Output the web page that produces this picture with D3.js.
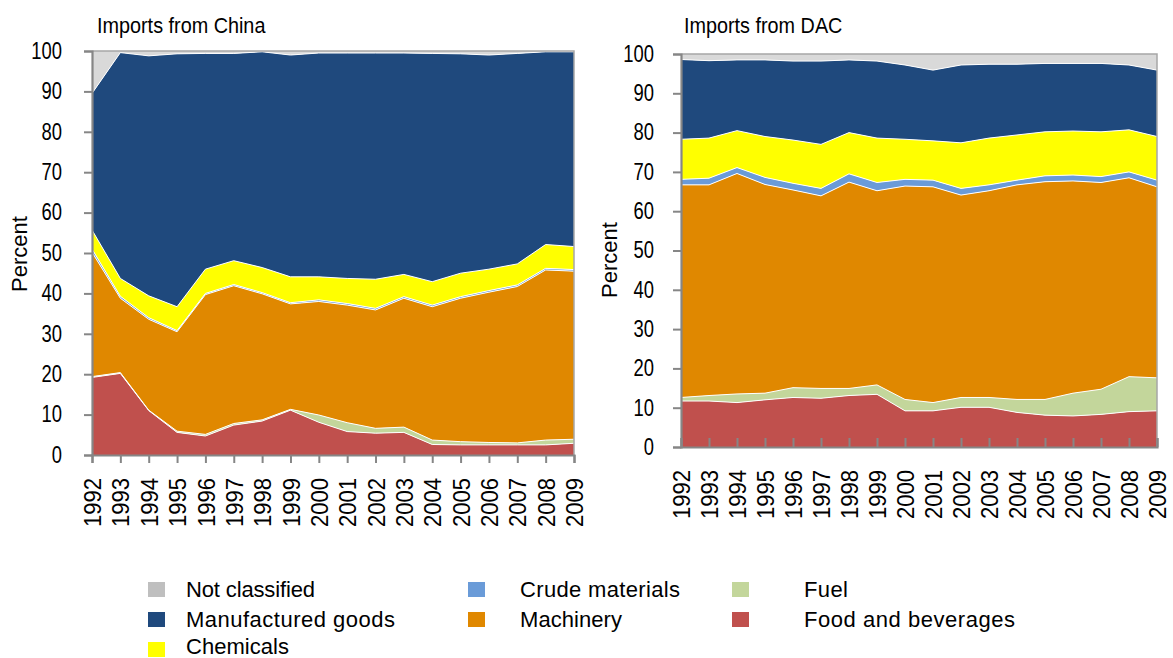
<!DOCTYPE html>
<html><head><meta charset="utf-8">
<script src="https://cdn.jsdelivr.net/npm/d3@7/dist/d3.min.js"></script>
<style>
body{margin:0;background:#fff}
svg{display:block;font-family:"Liberation Sans",Arial,Helvetica,sans-serif}
</style>
</head><body>
<svg id="chart" width="1173" height="658"></svg>
<script>
// ---------- data ----------
const years = [1992,1993,1994,1995,1996,1997,1998,1999,2000,2001,2002,2003,2004,2005,2006,2007,2008,2009];
const seriesKeys = ["food","fuel","machinery","crude","chemicals","manufactured","notClassified"];
const seriesNames = ["Food and beverages","Fuel","Machinery","Crude materials","Chemicals","Manufactured goods","Not classified"];
const seriesColors = ["#C0504D","#C3D69B","#E08800","#6A9BD8","#FFFF00","#1F497D","#D9D9D9"];
const legendColors = ["#C0504D","#C3D69B","#E08800","#6A9BD8","#FFFF00","#1F497D","#BFBFBF"];
const yTicks = [0,10,20,30,40,50,60,70,80,90,100];
const titles = ["Imports from China","Imports from DAC"];
const yLabel = "Percent";

// Imports from China (percent)
const chinaFood          = [19.2,20.2,11.0,5.6,4.7,7.4,8.4,11.1,8.1,5.8,5.4,5.6,2.6,2.5,2.5,2.5,2.5,2.9];
const chinaFuel          = [0.2,0.2,0.1,0.3,0.4,0.4,0.3,0.2,1.8,2.2,1.2,1.3,1.1,0.8,0.6,0.5,1.2,1.0];
const chinaMachinery     = [30.8,18.4,22.5,24.6,34.6,34.1,31.2,26.1,28.1,29.1,29.3,31.9,33.0,35.5,37.2,38.7,42.1,41.6];
const chinaCrude         = [0.8,0.5,0.4,0.3,0.3,0.3,0.3,0.3,0.4,0.4,0.4,0.4,0.4,0.4,0.4,0.4,0.4,0.4];
const chinaChemicals     = [4.7,4.4,5.4,5.9,6.0,5.9,6.2,6.4,5.7,6.2,7.2,5.5,5.8,5.8,5.3,5.2,5.9,5.7];
const chinaManufactured  = [33.8,55.9,59.4,62.6,53.4,51.3,53.4,54.9,55.4,55.8,56.0,54.8,56.5,54.3,53.0,52.1,47.7,48.2];
const chinaNotClassified = [10.5,0.4,1.2,0.7,0.6,0.6,0.2,1.0,0.5,0.5,0.5,0.5,0.6,0.7,1.0,0.6,0.2,0.2];

// Imports from DAC (percent)
const dacFood          = [11.7,11.7,11.3,12.0,12.6,12.4,13.1,13.4,9.2,9.2,10.1,10.1,8.8,8.1,7.9,8.3,9.0,9.2];
const dacFuel          = [0.9,1.4,2.2,1.7,2.5,2.5,1.8,2.4,2.9,2.1,2.5,2.5,3.3,4.0,5.8,6.4,8.9,8.4];
const dacMachinery     = [54.1,53.6,56.1,53.1,50.3,49.0,52.5,49.4,54.3,54.9,51.5,52.6,54.6,55.4,54.0,52.6,50.6,48.6];
const dacCrude         = [1.4,1.7,1.5,1.8,1.7,1.9,2.1,2.1,1.7,1.7,1.7,1.5,1.2,1.5,1.5,1.5,1.5,1.7];
const dacChemicals     = [10.2,10.2,9.4,10.4,11.0,11.2,10.5,11.3,10.2,10.0,11.6,11.9,11.5,11.2,11.2,11.4,10.7,11.1];
const dacManufactured  = [20.3,19.7,18.0,19.5,20.1,21.2,18.5,19.6,18.9,18.0,19.8,18.8,18.0,17.4,17.2,17.4,16.5,16.9];
const dacNotClassified = [1.4,1.7,1.5,1.5,1.8,1.8,1.5,1.8,2.8,4.1,2.8,2.6,2.6,2.4,2.4,2.4,2.8,4.1];

// ---------- helpers ----------
function rows(arrs){
  return years.map((yr,i)=>{
    const r={year:yr};
    seriesKeys.forEach((k,j)=>{ r[k]=arrs[j][i]; });
    return r;
  });
}
function condense(sel,f){
  sel.each(function(){
    const L=this.getComputedTextLength();
    this.setAttribute("textLength",(L*f).toFixed(1));
    this.setAttribute("lengthAdjust","spacingAndGlyphs");
  });
}

const svg = d3.select("#chart");

function panel(cfg){
  const data = rows(cfg.arrays);
  const x = d3.scaleLinear().domain([years[0],years[years.length-1]]).range(cfg.xr);
  const y = d3.scaleLinear().domain([0,100]).range(cfg.yr);
  const stack = d3.stack().keys(seriesKeys)(data);
  const g = svg.append("g");

  const area = d3.area().x(d=>x(d.data.year)).y0(d=>y(d[0])).y1(d=>y(Math.min(100,d[1])));
  g.selectAll("path.layer").data(stack).join("path")
    .attr("class","layer")
    .attr("d",area)
    .attr("fill",(d,i)=>seriesColors[i]);
  const topLine = d3.line().x(d=>x(d.data.year)).y(d=>y(Math.min(100,d[1])));
  g.selectAll("path.sep").data(stack.slice(0,stack.length-1)).join("path")
    .attr("class","sep")
    .attr("d",topLine)
    .attr("fill","none").attr("stroke","#fff").attr("stroke-width",1);

  // frame (top and right)
  g.append("path")
    .attr("d",`M${cfg.xr[0]},${y(100)}H${cfg.xr[1]}V${y(0)}`)
    .attr("fill","none").attr("stroke","#A6A6A6").attr("stroke-width",1.5);

  // y axis
  const ya = g.append("g").attr("transform",`translate(${cfg.xr[0]},0)`)
    .call(d3.axisLeft(y).tickValues(yTicks).tickSize(8).tickPadding(cfg.yPad).tickFormat(d3.format("d")));
  ya.select(".domain").attr("stroke","#868686").attr("stroke-width",2.2);
  ya.selectAll(".tick line").attr("stroke","#868686").attr("stroke-width",2);
  ya.selectAll(".tick text").attr("font-size",23).attr("fill","#000")
    .attr("font-family","'Liberation Sans',Arial,sans-serif");
  condense(ya.selectAll(".tick text"),0.8);

  // x axis
  const xa = g.append("g").attr("transform",`translate(0,${y(0)})`)
    .call(d3.axisBottom(x).tickValues(years).tickSize(cfg.xTick).tickFormat(d3.format("d")));
  xa.select(".domain").attr("stroke","#868686").attr("stroke-width",2.2);
  xa.selectAll(".tick line").attr("stroke","#868686").attr("stroke-width",2);
  xa.selectAll(".tick text")
    .attr("font-size",24).attr("fill","#000")
    .attr("font-family","'Liberation Sans',Arial,sans-serif")
    .attr("text-anchor","end")
    .attr("transform","rotate(-90)")
    .attr("x",-cfg.xLabOff).attr("y",0).attr("dy","0.36em");
  condense(xa.selectAll(".tick text"),0.92);

  // title
  const t = svg.append("text").attr("x",cfg.titleX).attr("y",33)
    .attr("font-size",22).attr("fill","#000").text(cfg.title);
  condense(t,0.9);

  // y label
  svg.append("text")
    .attr("transform",`translate(${cfg.plX},${cfg.plY}) rotate(-90)`)
    .attr("text-anchor","middle").attr("font-size",22).attr("fill","#000")
    .text(yLabel);
}

panel({
  arrays:[chinaFood,chinaFuel,chinaMachinery,chinaCrude,chinaChemicals,chinaManufactured,chinaNotClassified],
  xr:[92,574], yr:[455,51], yPad:22, xTick:8, xLabOff:23,
  title:titles[0], titleX:97, plX:27, plY:254
});
panel({
  arrays:[dacFood,dacFuel,dacMachinery,dacCrude,dacChemicals,dacManufactured,dacNotClassified],
  xr:[681,1157], yr:[447,54], yPad:19, xTick:-9, xLabOff:23,
  title:titles[1], titleX:684, plX:617, plY:260
});

// ---------- legend ----------
const legendOrder = [
  {k:6,col:0,row:0,w:129},{k:3,col:1,row:0,w:160},{k:1,col:2,row:0,w:44},
  {k:5,col:0,row:1,w:209},{k:2,col:1,row:1,w:102},{k:0,col:2,row:1,w:211},
  {k:4,col:0,row:2,w:103}
];
const colSwatchX = [148,468,732];
const colTextX = [186,520,804];
const rowTop = [582,612,642];
const rowBase = [597,627,654];
const lg = svg.append("g");
legendOrder.forEach(o=>{
  lg.append("rect").attr("x",colSwatchX[o.col]).attr("y",rowTop[o.row])
    .attr("width",17).attr("height",15).attr("fill",legendColors[o.k]);
  lg.append("text").attr("x",colTextX[o.col]).attr("y",rowBase[o.row])
    .attr("font-size",22).attr("fill","#000")
    .attr("textLength",o.w).attr("lengthAdjust","spacing")
    .text(seriesNames[o.k]);
});
</script>
</body></html>
